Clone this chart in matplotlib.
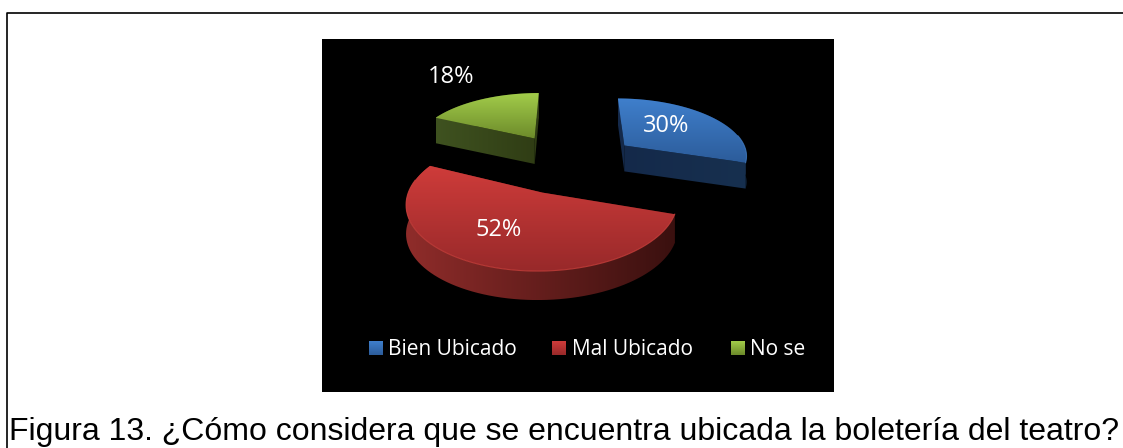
import numpy as np
import matplotlib
matplotlib.use("Agg")
import matplotlib.pyplot as plt
from matplotlib.colors import LinearSegmentedColormap
from matplotlib.patches import Polygon, Rectangle

categories = ["Bien Ubicado", "Mal Ubicado", "No se"]
values = [30, 52, 18]
labels = ["30%", "52%", "18%"]

top_colors = [("#3f7fcc", "#2c5c9a"), ("#cf3c3a", "#98292a"), ("#a2cc4a", "#6c8a2a")]
side_colors = [("#14294a", "#17304f"), ("#8f2c2a", "#3a100f"), ("#3f5220", "#2f3c14")]
rim_colors = ["#3f78bd", "#c9403c", "#7f9f38"]
label_pos = [(666, 126), (499, 230), (451, 77)]
legend_x = [369, 552, 731]
legend_text_x = [388, 572, 750]

# pie geometry, in pixels
cx, cy = 570, 162.5
rx, ry = 125, 58
persp = 0.14
explode_x, explode_y = 0.56, 0.52
depth = 27

fig = plt.figure(figsize=(11.23, 4.48), dpi=100)
ax = fig.add_axes([0, 0, 1, 1])


def project(u, v):
    w = 1 + persp * v
    return cx + rx * u / w, cy - ry * v / w


def gradient(poly, c0, c1, bounds, vertical=True):
    cmap = LinearSegmentedColormap.from_list("g", [c0, c1])
    ramp = np.linspace(0, 1, 256)
    ramp = ramp[:, None] if vertical else ramp[None, :]
    x0, y0, x1, y1 = bounds
    im = ax.imshow(ramp, cmap=cmap, extent=[x0, x1, y1, y0], aspect="auto", zorder=3, interpolation="bilinear")
    patch = Polygon(poly, closed=True, transform=ax.transData, facecolor="none", edgecolor="none")
    ax.add_patch(patch)
    im.set_clip_path(patch)


ax.add_patch(Rectangle((322, 39), 512, 353, facecolor="black", edgecolor="none", zorder=1))
ax.plot([7, 7, 1123], [448, 13.5, 13.5], color="black", lw=1.2, zorder=1)

# wedges run clockwise from 12 o'clock
start = 0.0
for i, val in enumerate(values):
    sweep = val / sum(values) * 2 * np.pi
    ang = np.linspace(start, start + sweep, 80)
    mid = start + sweep / 2
    ou, ov = explode_x * np.sin(mid), explode_y * np.cos(mid)
    apex = np.array(project(ou, ov))
    rim = np.array([project(ou + np.sin(a), ov + np.cos(a)) for a in ang])
    face = np.vstack([apex, rim])
    shift = [0, depth / (1 + persp * ov)]
    band = np.vstack([rim, (rim + shift)[::-1]])
    edge_a = np.array([apex, rim[0], rim[0] + shift, apex + shift])
    edge_b = np.array([apex, rim[-1], rim[-1] + shift, apex + shift])
    all_side = np.vstack([face, face + shift])
    bounds = (all_side[:, 0].min(), all_side[:, 1].min(), all_side[:, 0].max(), all_side[:, 1].max())
    for poly in [edge_a, edge_b, band]:
        gradient(poly, side_colors[i][0], side_colors[i][1], bounds, vertical=False)
    top_bounds = (face[:, 0].min(), face[:, 1].min(), face[:, 0].max(), face[:, 1].max())
    gradient(face, top_colors[i][0], top_colors[i][1], top_bounds)
    # thin light edge along the rim
    front = np.cos(ang) < 0.2
    ax.plot(rim[front, 0], rim[front, 1], color=rim_colors[i], lw=0.8, alpha=0.8, zorder=4)
    ax.text(label_pos[i][0], label_pos[i][1], labels[i], color="white", fontsize=17,
            family="Open Sans", ha="center", va="center", zorder=5)
    start += sweep

for i, name in enumerate(categories):
    box = np.array([[legend_x[i], 341], [legend_x[i] + 14, 341], [legend_x[i] + 14, 355], [legend_x[i], 355]])
    gradient(box, top_colors[i][0], top_colors[i][1], (legend_x[i], 341, legend_x[i] + 14, 355))
    ax.text(legend_text_x[i], 349.5, name, color="white", fontsize=15, family="Open Sans", ha="left", va="center", zorder=5)

ax.set_xlim(0, 1123)
ax.set_ylim(448, 0)
ax.axis("off")
ax.text(9, 440, "Figura 13. ¿Cómo considera que se encuentra ubicada la boletería del teatro?",
        fontsize=23, family="Liberation Sans", color="black", ha="left", va="baseline")

fig.savefig("out.png", dpi=100)
